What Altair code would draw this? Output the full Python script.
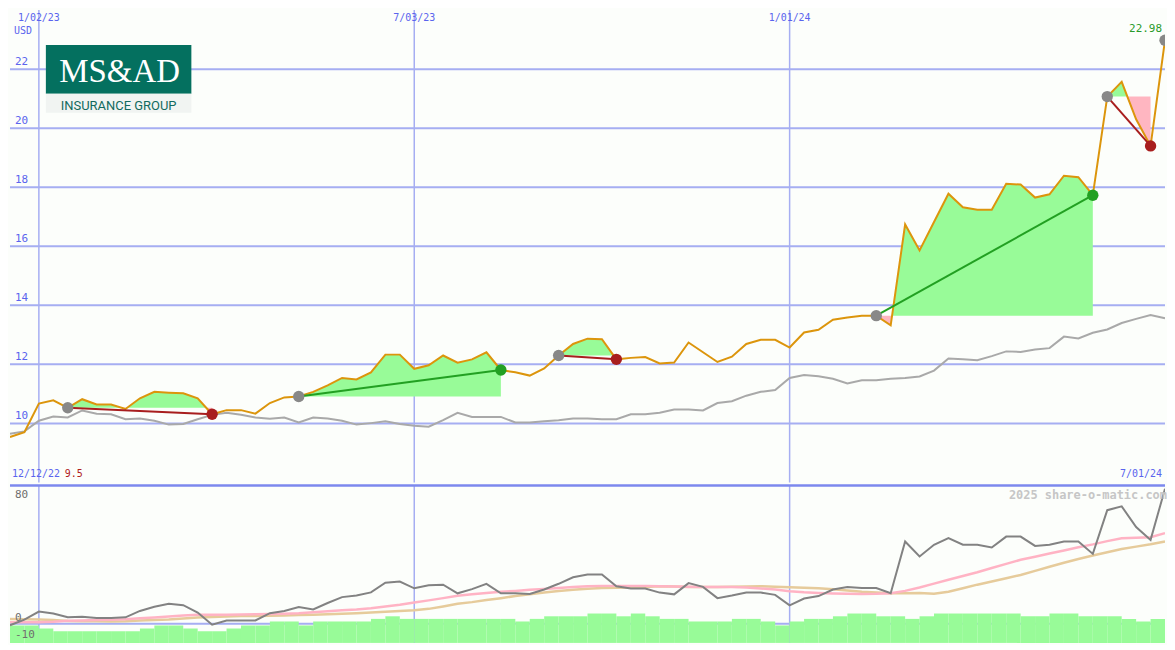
import altair as alt
import pandas as pd
from datetime import datetime, timedelta

# ---------------- data (weekly, Mondays) ----------------
START = datetime(2022, 12, 19)
END = datetime(2024, 7, 1)

price = [9.54, 9.70, 10.67, 10.78, 10.53, 10.82, 10.64, 10.64, 10.49, 10.85,
         11.07, 11.04, 11.02, 10.85, 10.31, 10.45, 10.45, 10.33, 10.69, 10.88,
         10.91, 11.07, 11.29, 11.54, 11.49, 11.73, 12.33, 12.33, 11.85, 11.97,
         12.30, 12.06, 12.17, 12.41, 11.81, 11.73, 11.62, 11.86, 12.30, 12.69,
         12.87, 12.85, 12.17, 12.22, 12.25, 12.03, 12.06, 12.74, 12.41, 12.08,
         12.26, 12.69, 12.83, 12.83, 12.57, 13.08, 13.17, 13.51, 13.59, 13.65,
         13.65, 13.32, 16.74, 15.86, 16.82, 17.78, 17.32, 17.24, 17.24, 18.12,
         18.09, 17.65, 17.76, 18.39, 18.34, 17.73, 21.07, 21.57, 20.30, 19.40,
         22.98]

ref_line = [9.65, 9.73, 10.09, 10.23, 10.20, 10.44, 10.33, 10.31, 10.14, 10.17,
            10.09, 9.96, 9.98, 10.14, 10.29, 10.36, 10.29, 10.20, 10.16, 10.20,
            10.03, 10.20, 10.17, 10.09, 9.96, 10.01, 10.07, 9.98, 9.92, 9.89,
            10.11, 10.36, 10.22, 10.22, 10.22, 10.03, 10.03, 10.07, 10.11, 10.17,
            10.17, 10.14, 10.14, 10.31, 10.31, 10.36, 10.47, 10.47, 10.44, 10.69,
            10.75, 10.94, 11.07, 11.13, 11.54, 11.64, 11.60, 11.51, 11.35, 11.46,
            11.46, 11.51, 11.54, 11.59, 11.79, 12.20, 12.17, 12.14, 12.28, 12.44,
            12.42, 12.50, 12.55, 12.94, 12.88, 13.07, 13.18, 13.40, 13.54, 13.67,
            13.56]

osc = [-0.9, 2.4, 7.0, 5.9, 3.7, 4.1, 3.3, 3.3, 3.7, 7.4,
       9.8, 11.5, 10.7, 6.5, -0.6, 1.9, 1.9, 1.9, 6.1, 7.4,
       9.6, 8.3, 12.0, 15.4, 16.3, 18.1, 23.7, 24.4, 20.5, 22.2,
       22.6, 17.6, 20.0, 23.1, 17.6, 17.6, 17.2, 19.8, 23.1, 26.9,
       28.5, 28.5, 21.7, 20.4, 20.4, 18.0, 17.0, 23.5, 21.3, 14.8,
       16.3, 18.0, 18.0, 16.7, 10.6, 14.6, 16.0, 19.8, 21.3, 20.7,
       20.7, 17.6, 47.6, 38.9, 45.7, 49.6, 45.7, 45.7, 44.1, 50.4,
       50.4, 45.0, 45.7, 47.6, 47.6, 40.4, 65.7, 67.9, 55.9, 48.5,
       78.1]

osc_fast = [0.9, 0.9, 0.9, 1.2, 1.7, 1.9, 2.1, 2.3, 2.6, 3.1,
            3.6, 4.2, 4.8, 5.2, 5.2, 5.2, 5.3, 5.5, 5.6, 5.8,
            6.1, 6.6, 7.2, 7.8, 8.2, 8.9, 10.0, 11.0, 12.3, 13.5,
            14.8, 16.2, 17.0, 17.8, 18.5, 19.0, 19.6, 20.1, 20.7, 21.2,
            21.7, 21.9, 21.9, 21.9, 21.9, 21.7, 21.6, 21.4, 21.3, 21.3,
            21.3, 21.0, 20.4, 19.8, 18.8, 18.2, 17.8, 17.5, 17.3, 17.2,
            17.3, 17.6, 19.0, 21.0, 23.2, 25.4, 27.6, 29.8, 32.2, 34.6,
            37.0, 38.8, 40.6, 42.4, 44.2, 45.9, 47.8, 49.4, 49.8, 50.0,
            52.4]

osc_slow = [2.8, 2.6, 2.4, 2.1, 1.6, 1.5, 1.4, 1.3, 1.4, 1.9,
            2.1, 2.4, 3.0, 3.6, 3.9, 4.2, 4.4, 4.5, 4.6, 4.8,
            5.0, 5.2, 5.5, 5.8, 6.1, 6.5, 6.9, 7.3, 7.8, 8.6,
            10.0, 11.5, 12.5, 13.7, 14.8, 16.0, 17.0, 18.0, 18.9, 19.6,
            20.2, 20.6, 20.8, 20.9, 21.3, 21.7, 21.6, 21.3, 21.3, 21.3,
            21.4, 21.6, 21.7, 21.4, 21.1, 20.8, 20.5, 20.0, 19.2, 18.5,
            18.0, 17.6, 17.6, 17.8, 17.4, 18.5, 20.5, 22.6, 24.4, 26.3,
            28.2, 30.6, 33.0, 35.3, 37.4, 39.5, 41.4, 43.2, 44.6, 46.0,
            47.6]

bars = [-1.0, -1.0, -2.8, -4.3, -4.3, -4.3, -4.3, -4.3, -4.3, -2.8,
        -1.0, -1.0, -2.8, -4.3, -4.3, -2.8, -1.0, -1.0, 1.3, 1.3,
        -1.0, 1.3, 1.3, 1.3, 1.3, 2.8, 4.3, 2.8, 2.8, 2.8,
        2.8, 2.8, 2.8, 2.8, 2.8, 1.3, 2.8, 4.3, 4.3, 4.3,
        5.9, 5.9, 4.3, 5.9, 4.3, 2.8, 2.8, 1.3, 1.3, 1.3,
        2.8, 2.8, 1.3, -1.0, 1.3, 2.8, 2.8, 4.3, 5.9, 5.9,
        4.3, 4.3, 2.8, 4.3, 5.9, 5.9, 5.9, 5.9, 5.9, 5.9,
        4.3, 4.3, 5.9, 5.9, 4.3, 4.3, 4.3, 2.8, 1.3, 2.8]

trades = [(4, 14), (20, 34), (38, 42), (60, 75), (76, 79)]   # (buy week, sell week)
open_buy = 80

y_ticks_top = [10, 12, 14, 16, 18, 20, 22]
date_ticks = [datetime(2023, 1, 2), datetime(2023, 7, 3), datetime(2024, 1, 1)]
date_tick_labels = ["1/02/23", "7/03/23", "1/01/24"]
start_label, start_low = "12/12/22", "9.5"
end_label = "7/01/24"
last_label = "22.98"
bottom_ticks_low = [0, -10]
bottom_tick_top = 80
watermark = "2025 share-o-matic.com"

# ---------------- layout / style ----------------
W, H1, H2 = 1159, 474, 158
FONT = "DejaVu Sans Mono"
BLUE_TXT = "#5a64ee"
GRID = "#a6aef2"
BG = "#fcfefb"
GREEN_FILL = "#98fb98"
PINK_FILL = "#ffb6c1"


def iso(d):
    return d.strftime("%Y-%m-%dT%H:%M:%SZ")


dates = [START + timedelta(days=7 * k) for k in range(len(price))]

main = pd.DataFrame({
    "date": [iso(d) for d in dates],
    "price": price, "ref": ref_line, "osc": osc,
    "fast": osc_fast, "slow": osc_slow,
})
bar_df = pd.DataFrame({
    "date": [iso(dates[k]) for k in range(len(bars))],
    "date2": [iso(dates[k + 1]) for k in range(len(bars))],
    "v": bars,
})

# fills between price and buy level for each trade (crossings derived)
fill_rows = []
for t, (b, s) in enumerate(trades):
    L = price[b]
    for k in range(b, s + 1):
        p = price[k]
        fill_rows.append(dict(trade=t, date=iso(dates[k]), up=max(p, L), dn=min(p, L), level=L))
        if k < s:
            p0, p1 = price[k], price[k + 1]
            if (p0 - L) * (p1 - L) < 0:
                f = (L - p0) / (p1 - p0)
                fill_rows.append(dict(trade=t, date=iso(dates[k] + timedelta(days=7 * f)),
                                      up=L, dn=L, level=L))
fill_df = pd.DataFrame(fill_rows)

line_rows, dot_rows = [], []
for t, (b, s) in enumerate(trades):
    res = "gain" if price[s] > price[b] else "loss"
    line_rows.append(dict(trade=t, date=iso(dates[b]), price=price[b], res=res))
    line_rows.append(dict(trade=t, date=iso(dates[s]), price=price[s], res=res))
    dot_rows.append(dict(date=iso(dates[b]), price=price[b], kind="buy"))
    dot_rows.append(dict(date=iso(dates[s]), price=price[s], kind=res))
dot_rows.append(dict(date=iso(dates[open_buy]), price=price[open_buy], kind="buy"))
tline_df = pd.DataFrame(line_rows)
dot_df = pd.DataFrame(dot_rows)

color_scale = alt.Scale(domain=["buy", "gain", "loss"], range=["#888888", "#22a022", "#a81e1e"])

xs = alt.Scale(type="utc", domain=[alt.DateTime(year=2022, month=12, date=19, utc=True),
                                   alt.DateTime(year=2024, month=7, date=1, utc=True)])
ys1 = alt.Scale(domain=[8, 24], nice=False, zero=False)
ys2 = alt.Scale(domain=[-11.1, 80], nice=False, zero=False)

X = lambda f="date": alt.X(f + ":T", scale=xs, axis=None)

ygrid_df = pd.DataFrame({"v": y_ticks_top, "lab": [str(v) for v in y_ticks_top]})
xgrid_df = pd.DataFrame({"date": [iso(d) for d in date_ticks], "lab": date_tick_labels})

# ---------------- top panel ----------------
top_layers = [
    alt.Chart(ygrid_df).mark_rule(color=GRID, strokeWidth=2).encode(
        y=alt.Y("v:Q", scale=ys1, axis=None)),
    alt.Chart(xgrid_df).mark_rule(color=GRID, strokeWidth=1.5).encode(x=X()),
    alt.Chart(fill_df).mark_area(color=GREEN_FILL, clip=True).encode(
        x=X(), y=alt.Y("up:Q", scale=ys1, axis=None), y2="level:Q", detail="trade:N"),
    alt.Chart(fill_df).mark_area(color=PINK_FILL, clip=True).encode(
        x=X(), y=alt.Y("dn:Q", scale=ys1, axis=None), y2="level:Q", detail="trade:N"),
    alt.Chart(main).mark_line(color="#a9a9a9", strokeWidth=2, clip=True).encode(
        x=X(), y=alt.Y("ref:Q", scale=ys1, axis=None)),
    alt.Chart(main).mark_line(color="#dc950c", strokeWidth=2, clip=True).encode(
        x=X(), y=alt.Y("price:Q", scale=ys1, axis=None)),
    alt.Chart(tline_df).mark_line(strokeWidth=2, clip=True).encode(
        x=X(), y=alt.Y("price:Q", scale=ys1, axis=None), detail="trade:N",
        color=alt.Color("res:N", scale=color_scale, legend=None)),
    alt.Chart(dot_df).mark_circle(size=130, opacity=1, clip=True).encode(
        x=X(), y=alt.Y("price:Q", scale=ys1, axis=None),
        color=alt.Color("kind:N", scale=color_scale, legend=None)),
    # axis labels
    alt.Chart(ygrid_df).mark_text(font=FONT, fontSize=11, color=BLUE_TXT, align="left",
                                  baseline="middle", dy=-7).encode(
        x=alt.value(5), y=alt.Y("v:Q", scale=ys1, axis=None), text="lab:N"),
    alt.Chart(xgrid_df).mark_text(font=FONT, fontSize=10, color=BLUE_TXT, align="center",
                                  baseline="middle").encode(
        x=X(), y=alt.value(8), text="lab:N"),
    alt.Chart(pd.DataFrame({"t": ["USD"]})).mark_text(
        font=FONT, fontSize=10, color=BLUE_TXT, align="left", baseline="middle").encode(
        x=alt.value(4), y=alt.value(21), text="t:N"),
    alt.Chart(pd.DataFrame({"t": [start_label]})).mark_text(
        font=FONT, fontSize=10, color=BLUE_TXT, align="left", baseline="middle").encode(
        x=alt.value(2), y=alt.value(H1 - 8), text="t:N"),
    alt.Chart(pd.DataFrame({"t": [start_low]})).mark_text(
        font=FONT, fontSize=10, color="#b02020", align="left", baseline="middle").encode(
        x=alt.value(55), y=alt.value(H1 - 8), text="t:N"),
    alt.Chart(pd.DataFrame({"t": [end_label]})).mark_text(
        font=FONT, fontSize=10, color=BLUE_TXT, align="right", baseline="middle").encode(
        x=alt.value(W - 3), y=alt.value(H1 - 8), text="t:N"),
    alt.Chart(pd.DataFrame({"date": [iso(dates[-1])], "price": [price[-1]], "t": [last_label]})).mark_text(
        font=FONT, fontSize=11, color="#2a9a2a", align="right", baseline="middle", dx=-3, dy=-11).encode(
        x=X(), y=alt.Y("price:Q", scale=ys1, axis=None), text="t:N"),
    # logo
    alt.Chart(pd.DataFrame({"a": [0]})).mark_rect(color="#04705f").encode(
        x=alt.value(36), x2=alt.value(182), y=alt.value(35), y2=alt.value(84)),
    alt.Chart(pd.DataFrame({"a": [0]})).mark_rect(color="#f1f4f2").encode(
        x=alt.value(36), x2=alt.value(182), y=alt.value(84), y2=alt.value(103)),
    alt.Chart(pd.DataFrame({"t": ["MS&AD"]})).mark_text(
        font="Liberation Serif", fontSize=33, color="white", align="center",
        baseline="alphabetic").encode(x=alt.value(110), y=alt.value(72), text="t:N"),
    alt.Chart(pd.DataFrame({"t": ["INSURANCE GROUP"]})).mark_text(
        font="Roboto", fontSize=13, color="#126a5e", align="center",
        baseline="alphabetic").encode(x=alt.value(109), y=alt.value(100), text="t:N"),
]
top = alt.layer(*top_layers).properties(width=W, height=H1)

# ---------------- bottom panel ----------------
bottom_layers = [
    alt.Chart(pd.DataFrame({"v": [0]})).mark_rule(color=GRID, strokeWidth=2).encode(
        y=alt.Y("v:Q", scale=ys2, axis=None)),
    alt.Chart(xgrid_df).mark_rule(color=GRID, strokeWidth=1.5).encode(x=X()),
    alt.Chart(bar_df).mark_rect(color=GREEN_FILL, clip=True).encode(
        x=X(), x2="date2:T", y=alt.Y("v:Q", scale=ys2, axis=None), y2=alt.datum(-11.1)),
    alt.Chart(main).mark_line(color="#e6cb9b", strokeWidth=2.5, clip=True).encode(
        x=X(), y=alt.Y("slow:Q", scale=ys2, axis=None)),
    alt.Chart(main).mark_line(color="#ffb3c4", strokeWidth=2.5, clip=True).encode(
        x=X(), y=alt.Y("fast:Q", scale=ys2, axis=None)),
    alt.Chart(main).mark_line(color="#828282", strokeWidth=2, clip=True).encode(
        x=X(), y=alt.Y("osc:Q", scale=ys2, axis=None)),
    alt.Chart(pd.DataFrame({"v": [bottom_tick_top]})).mark_rule(color="#7c88ee", strokeWidth=2.5).encode(
        y=alt.Y("v:Q", scale=ys2, axis=None)),
    alt.Chart(pd.DataFrame({"v": [bottom_tick_top], "lab": [str(bottom_tick_top)]})).mark_text(
        font=FONT, fontSize=11, color="#6e6e6e", align="left", baseline="middle", dy=10).encode(
        x=alt.value(5), y=alt.Y("v:Q", scale=ys2, axis=None), text="lab:N"),
    alt.Chart(pd.DataFrame({"v": bottom_ticks_low, "lab": [str(v) for v in bottom_ticks_low]})).mark_text(
        font=FONT, fontSize=11, color="#6e6e6e", align="left", baseline="middle", dy=-6).encode(
        x=alt.value(5), y=alt.Y("v:Q", scale=ys2, axis=None), text="lab:N"),
    alt.Chart(pd.DataFrame({"t": [watermark]})).mark_text(
        font=FONT, fontSize=12, fontWeight="bold", color="#c6c6c6", align="right",
        baseline="middle").encode(x=alt.value(W + 2), y=alt.value(10), text="t:N"),
]
bottom = alt.layer(*bottom_layers).properties(width=W, height=H2)

chart = alt.vconcat(top, bottom, spacing=0).resolve_scale(
    x="independent", y="independent", color="independent"
).properties(padding=0, background=BG).configure_view(stroke=None)

chart.save("out.html", embed_options={"renderer": "svg", "actions": False})
